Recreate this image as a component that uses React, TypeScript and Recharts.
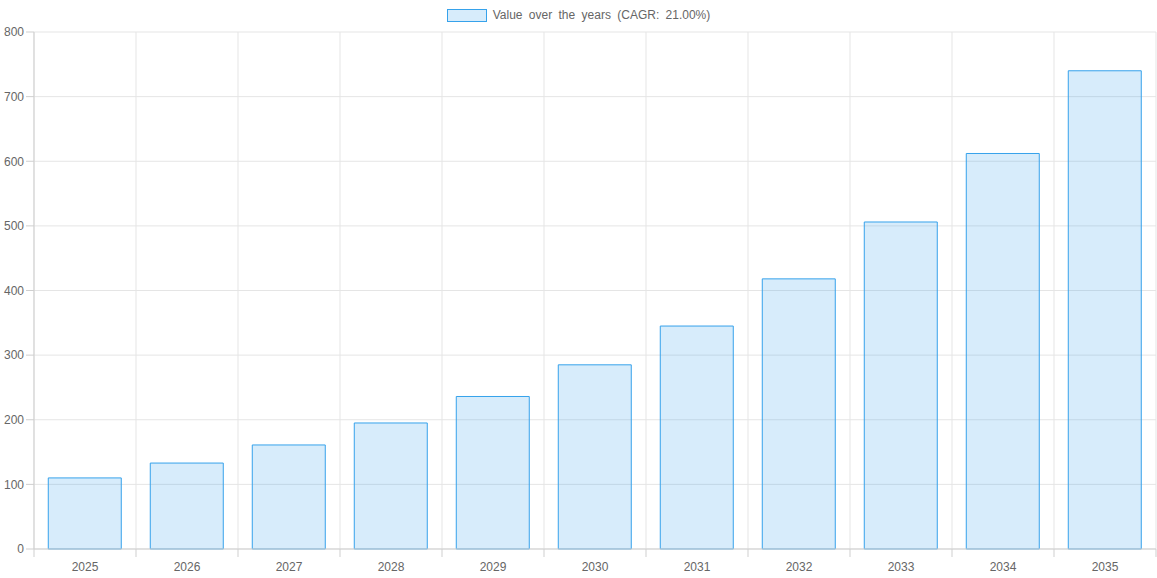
import { BarChart, Bar, XAxis, YAxis, CartesianGrid } from "recharts";

const years = ["2025", "2026", "2027", "2028", "2029", "2030", "2031", "2032", "2033", "2034", "2035"];
const values = [110, 133, 161, 195, 236, 285, 345, 418, 506, 612, 740];
const yTicks = [0, 100, 200, 300, 400, 500, 600, 700, 800];
const legendLabel = "Value over the years (CAGR: 21.00%)";

const data = years.map((year, i) => ({ year, value: values[i] }));

const FONT = "'Liberation Sans', Arial, Helvetica, sans-serif";
const GRID = "#e5e5e5";
const AXIS = "#cfcfcf";
const TEXT = "#666";

// x tick: label at the band centre, tick mark at the band's left edge (chart.js offset grid)
function XTick(props: any) {
  const { x, y, payload, index } = props;
  const half = 51;
  const isLast = index === years.length - 1;
  return (
    <g>
      <line x1={x - half} x2={x - half} y1={y - 8} y2={y} stroke={AXIS} />
      {isLast && <line x1={x + half} x2={x + half} y1={y - 8} y2={y} stroke={AXIS} />}
      <text x={x} y={y + 14} textAnchor="middle" fill={TEXT} fontSize={12} fontFamily={FONT}>
        {payload.value}
      </text>
    </g>
  );
}

export default function App() {
  return (
    <div style={{ position: "absolute", left: 0, top: 0, width: 1157, height: 578, background: "#fff" }}>
      <div
        style={{
          position: "absolute",
          top: 8,
          left: 0,
          width: 1157,
          display: "flex",
          justifyContent: "center",
          alignItems: "center",
          fontFamily: FONT,
          fontSize: 12,
          color: TEXT,
          wordSpacing: 3,
        }}
      >
        <span
          style={{
            display: "inline-block",
            width: 38,
            height: 11,
            background: "rgba(54,162,235,0.2)",
            border: "1px solid rgb(54,162,235)",
            marginRight: 6,
          }}
        />
        <span>{legendLabel}</span>
      </div>
      <BarChart
        width={1157}
        height={578}
        data={data}
        margin={{ top: 32, right: 1, bottom: 0, left: 0 }}
        barCategoryGap="14%"
      >
        <CartesianGrid
          stroke={GRID}
          verticalCoordinatesGenerator={({ offset }: any) =>
            years.map((_, i) => offset.left + (i * offset.width) / years.length).concat(offset.left + offset.width)
          }
        />
        <XAxis
          dataKey="year"
          height={29}
          tickLine={false}
          stroke={AXIS}
          tick={<XTick />}
          interval={0}
        />
        <YAxis
          width={34}
          domain={[0, 800]}
          ticks={yTicks}
          tickSize={8}
          stroke={AXIS}
          tickLine={{ stroke: AXIS }}
          tick={{ fill: TEXT, fontSize: 12, fontFamily: FONT }}
        />
        <Bar
          dataKey="value"
          fill="rgba(54,162,235,0.2)"
          stroke="rgb(54,162,235)"
          strokeWidth={1}
          isAnimationActive={false}
        />
      </BarChart>
    </div>
  );
}
